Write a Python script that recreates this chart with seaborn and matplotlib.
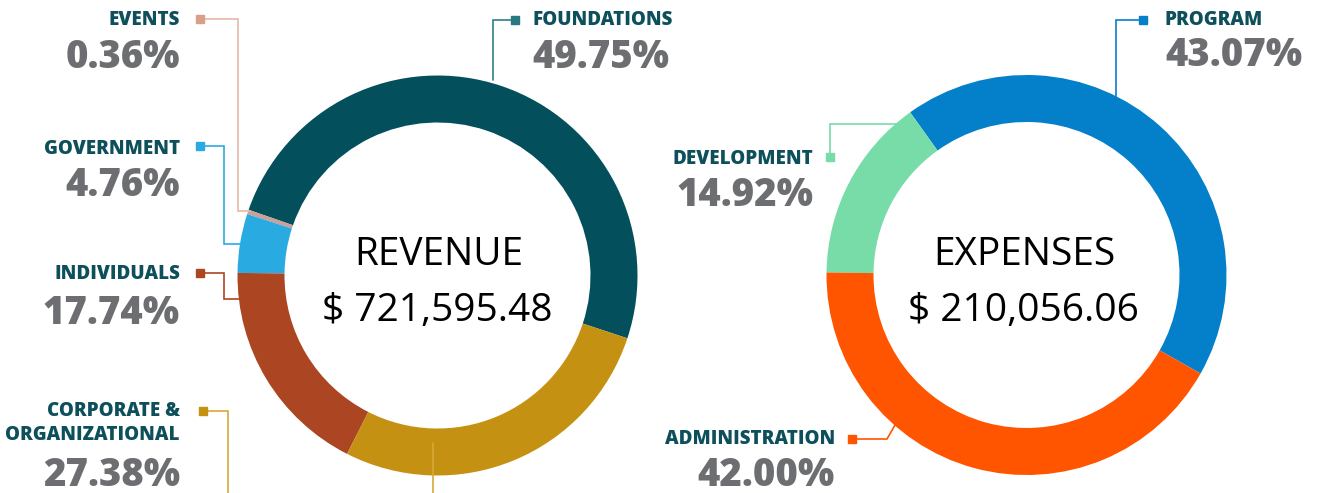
import matplotlib
matplotlib.use("Agg")
import matplotlib.pyplot as plt
import seaborn as sns

# ---------------- data ----------------
revenue_categories = ["FOUNDATIONS", "EVENTS", "GOVERNMENT", "INDIVIDUALS", "CORPORATE &\nORGANIZATIONAL"]
revenue_shares = [49.75, 0.36, 4.76, 17.74, 27.38]
revenue_colors = ["#03505C", "#C9A09A", "#29ABE2", "#AC4521", "#C59113"]
revenue_total = 721595.48

expense_categories = ["PROGRAM", "DEVELOPMENT", "ADMINISTRATION"]
expense_shares = [43.07, 14.92, 42.00]
expense_colors = ["#0480CA", "#78DCA8", "#FF5500"]
expense_total = 210056.06

# ---------------- style ----------------
sns.set_theme(style="white")
plt.rcParams["font.family"] = ["Open Sans", "DejaVu Sans"]

W, H = 1320, 493
fig = plt.figure(figsize=(W / 100, H / 100), dpi=100)
ax = fig.add_axes([0, 0, 1, 1])

def Y(y):
    return H - y

LABEL_C = "#0D4F5B"
PCT_C = "#6D6E71"

# donuts
R = 200
ring = dict(width=47, linewidth=0, edgecolor="none")
ax.pie(revenue_shares, colors=revenue_colors, radius=R, center=(437.5, Y(275.5)),
       startangle=-18.3, counterclock=True, wedgeprops=ring, frame=True)
ax.pie(expense_shares, colors=expense_colors, radius=R, center=(1026.5, Y(275)),
       startangle=-29.5, counterclock=True, wedgeprops=ring, frame=True)

ax.set_xlim(0, W)
ax.set_ylim(0, H)
ax.set_aspect("equal")
ax.axis("off")

# center texts
ax.text(439, Y(255), "REVENUE", ha="center", va="center", fontsize=28, color="black")
ax.text(437, Y(311), f"$ {revenue_total:,.2f}", ha="center", va="center", fontsize=28, color="black")
ax.text(1024, Y(255), "EXPENSES", ha="center", va="center", fontsize=28, color="black")
ax.text(1023, Y(311), f"$ {expense_total:,.2f}", ha="center", va="center", fontsize=28, color="black")

# label layout: (x, label_y, pct_y, ha)
rev_layout = [
    (532, 20, 58, "left"),
    (180, 20, 57, "right"),
    (180, 149, 186, "right"),
    (180, 274, 313, "right"),
    (180, 423, 475, "right"),
]
exp_layout = [
    (1165, 20, 56, "left"),
    (813, 159, 195, "right"),
    (835, 439, 475, "right"),
]

def put_labels(cats, shares, layout):
    for cat, s, (x, ly, py, ha) in zip(cats, shares, layout):
        ax.text(x, Y(ly), cat, ha=ha, va="center", fontsize=13.5, fontweight=800,
                color=LABEL_C, linespacing=1.25, multialignment="right")
        ax.text(x, Y(py), f"{s:.2f}%", ha=ha, va="center", fontsize=27.5,
                fontweight=800, color=PCT_C)

put_labels(revenue_categories, revenue_shares, rev_layout)
put_labels(expense_categories, expense_shares, exp_layout)

# leader lines (pixel paths), colors
leaders = [
    ([(515, 20), (493, 20), (493, 80)], "#2F7F87", "#287A80"),
    ([(200, 19), (238, 19), (238, 211), (250, 211)], "#E8B8A8", "#D99F89"),
    ([(200, 146), (224, 146), (224, 244), (241, 244)], "#29ABE2", "#29ABE2"),
    ([(200, 273), (224, 273), (224, 299), (241, 299)], "#AC4521", "#AC4521"),
    ([(203, 411), (228, 411), (228, 520), (433, 520), (433, 443)], "#D8A83A", "#C59113"),
    ([(1143, 20), (1116, 20), (1116, 97)], "#0480CA", "#0480CA"),
    ([(830, 157), (830, 124), (897, 124)], "#78DCA8", "#78DCA8"),
    ([(852, 439), (887, 439), (895, 425)], "#FF5500", "#FF5500"),
]
for pts, lc, mc in leaders:
    xs = [p[0] for p in pts]
    ys = [Y(p[1]) for p in pts]
    ax.plot(xs, ys, color=lc, lw=1.2, solid_joinstyle="miter", zorder=1)
    ax.plot(xs[0], ys[0], marker="s", markersize=6, color=mc, zorder=3, linestyle="none")

fig.savefig("out.png", dpi=100, facecolor="white")
